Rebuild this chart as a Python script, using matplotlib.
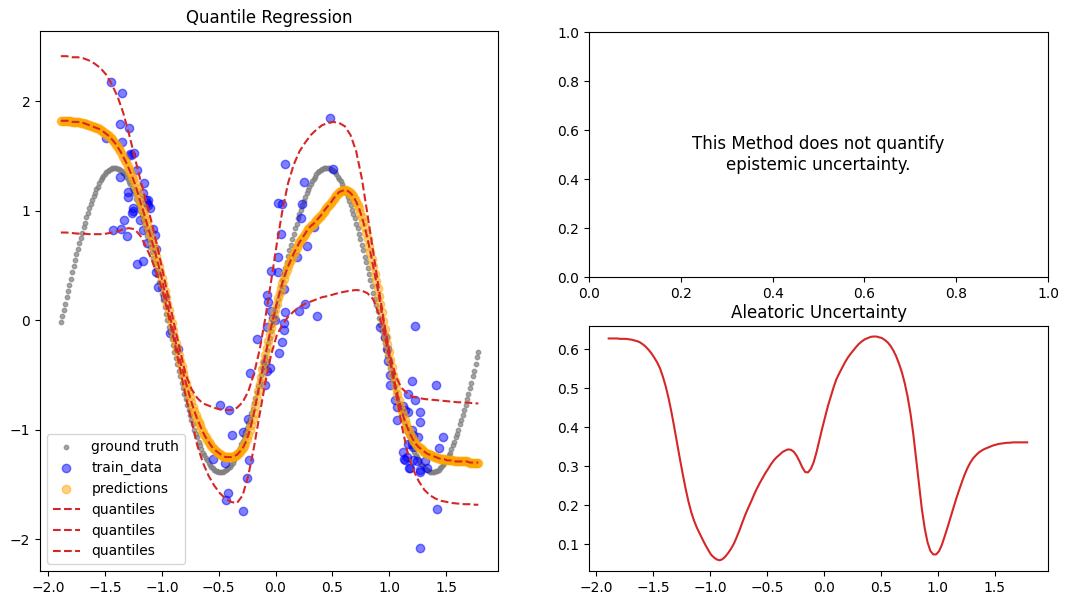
import numpy as np
import matplotlib.pyplot as plt

# test grid the model was evaluated on
x_fine = np.linspace(-1.89, 1.785, 295)
x_mid = x_fine[::2]
x_q = np.append(x_fine[::4], x_fine[-1])

ground_truth = [
    -0.02, 0.04, 0.09, 0.15, 0.21, 0.27, 0.32, 0.38, 0.44, 0.49,
    0.55, 0.60, 0.65, 0.70, 0.75, 0.80, 0.85, 0.89, 0.94, 0.98,
    1.02, 1.06, 1.10, 1.13, 1.16, 1.20, 1.22, 1.25, 1.28, 1.30,
    1.32, 1.33, 1.35, 1.36, 1.37, 1.38, 1.39, 1.39, 1.39, 1.39,
    1.38, 1.38, 1.37, 1.36, 1.34, 1.33, 1.31, 1.29, 1.26, 1.24,
    1.21, 1.18, 1.15, 1.11, 1.08, 1.04, 1.00, 0.96, 0.91, 0.87,
    0.82, 0.77, 0.73, 0.67, 0.62, 0.57, 0.52, 0.46, 0.41, 0.35,
    0.29, 0.24, 0.18, 0.12, 0.06, 0.00, -0.06, -0.11, -0.17, -0.23,
    -0.29, -0.35, -0.40, -0.46, -0.51, -0.57, -0.62, -0.67, -0.72, -0.77,
    -0.82, -0.87, -0.91, -0.95, -1.00, -1.04, -1.07, -1.11, -1.14, -1.18,
    -1.21, -1.23, -1.26, -1.28, -1.30, -1.32, -1.34, -1.35, -1.37, -1.38,
    -1.38, -1.39, -1.39, -1.39, -1.39, -1.38, -1.37, -1.36, -1.35, -1.34,
    -1.32, -1.30, -1.28, -1.25, -1.23, -1.20, -1.17, -1.13, -1.10, -1.06,
    -1.02, -0.98, -0.94, -0.90, -0.85, -0.81, -0.76, -0.71, -0.66, -0.60,
    -0.55, -0.50, -0.44, -0.39, -0.33, -0.27, -0.21, -0.16, -0.10, -0.04,
    0.02, 0.08, 0.14, 0.19, 0.25, 0.31, 0.37, 0.42, 0.48, 0.53,
    0.59, 0.64, 0.69, 0.74, 0.79, 0.84, 0.88, 0.93, 0.97, 1.01,
    1.05, 1.09, 1.12, 1.16, 1.19, 1.22, 1.24, 1.27, 1.29, 1.31,
    1.33, 1.35, 1.36, 1.37, 1.38, 1.39, 1.39, 1.39, 1.39, 1.39,
    1.38, 1.37, 1.36, 1.35, 1.33, 1.31, 1.29, 1.27, 1.24, 1.22,
    1.19, 1.16, 1.12, 1.09, 1.05, 1.01, 0.97, 0.93, 0.88, 0.84,
    0.79, 0.74, 0.69, 0.64, 0.58, 0.53, 0.48, 0.42, 0.37, 0.31,
    0.25, 0.19, 0.14, 0.08, 0.02, -0.04, -0.10, -0.16, -0.21, -0.27,
    -0.33, -0.39, -0.44, -0.50, -0.55, -0.60, -0.66, -0.71, -0.76, -0.81,
    -0.85, -0.90, -0.94, -0.98, -1.02, -1.06, -1.10, -1.13, -1.17, -1.20,
    -1.23, -1.25, -1.28, -1.30, -1.32, -1.34, -1.35, -1.36, -1.37, -1.38,
    -1.39, -1.39, -1.39, -1.39, -1.38, -1.38, -1.37, -1.35, -1.34, -1.32,
    -1.30, -1.28, -1.26, -1.23, -1.21, -1.18, -1.14, -1.11, -1.07, -1.04,
    -1.00, -0.95, -0.91, -0.87, -0.82, -0.77, -0.72, -0.67, -0.62, -0.57,
    -0.51, -0.46, -0.40, -0.34, -0.29,
]

# median quantile, also shown as the predictions
q_mid = [
    1.82, 1.82, 1.82, 1.82, 1.82, 1.82, 1.82, 1.815, 1.81, 1.81,
    1.81, 1.81, 1.81, 1.805, 1.80, 1.80, 1.80, 1.795, 1.79, 1.785,
    1.78, 1.775, 1.77, 1.765, 1.76, 1.755, 1.75, 1.745, 1.74, 1.73,
    1.72, 1.71, 1.70, 1.69, 1.68, 1.665, 1.65, 1.635, 1.62, 1.60,
    1.58, 1.56, 1.54, 1.515, 1.49, 1.465, 1.44, 1.41, 1.38, 1.35,
    1.32, 1.285, 1.25, 1.21, 1.17, 1.125, 1.08, 1.04, 1.00, 0.955,
    0.91, 0.865, 0.82, 0.775, 0.73, 0.685, 0.64, 0.59, 0.54, 0.49,
    0.44, 0.385, 0.33, 0.27, 0.21, 0.15, 0.09, 0.03, -0.03, -0.09,
    -0.15, -0.205, -0.26, -0.315, -0.37, -0.42, -0.47, -0.52, -0.57, -0.615,
    -0.66, -0.705, -0.75, -0.79, -0.83, -0.865, -0.90, -0.93, -0.96, -0.99,
    -1.02, -1.045, -1.07, -1.09, -1.11, -1.13, -1.15, -1.165, -1.18, -1.19,
    -1.20, -1.21, -1.22, -1.23, -1.24, -1.245, -1.25, -1.25, -1.25, -1.25,
    -1.25, -1.245, -1.24, -1.235, -1.23, -1.215, -1.20, -1.185, -1.17, -1.145,
    -1.12, -1.085, -1.05, -1.005, -0.96, -0.905, -0.85, -0.785, -0.72, -0.65,
    -0.58, -0.515, -0.45, -0.385, -0.32, -0.255, -0.19, -0.13, -0.07, -0.015,
    0.04, 0.095, 0.15, 0.20, 0.25, 0.295, 0.34, 0.38, 0.42, 0.455,
    0.49, 0.52, 0.55, 0.58, 0.61, 0.635, 0.66, 0.685, 0.71, 0.73,
    0.75, 0.77, 0.79, 0.81, 0.83, 0.845, 0.86, 0.87, 0.88, 0.895,
    0.91, 0.925, 0.94, 0.955, 0.97, 0.99, 1.01, 1.025, 1.04, 1.055,
    1.07, 1.09, 1.11, 1.125, 1.14, 1.155, 1.17, 1.175, 1.18, 1.185,
    1.19, 1.185, 1.18, 1.17, 1.16, 1.145, 1.13, 1.105, 1.08, 1.05,
    1.02, 0.98, 0.94, 0.895, 0.85, 0.795, 0.74, 0.68, 0.62, 0.555,
    0.49, 0.425, 0.36, 0.29, 0.22, 0.145, 0.07, -0.005, -0.08, -0.15,
    -0.22, -0.29, -0.36, -0.43, -0.50, -0.56, -0.62, -0.675, -0.73, -0.78,
    -0.83, -0.87, -0.91, -0.945, -0.98, -1.01, -1.04, -1.065, -1.09, -1.11,
    -1.13, -1.145, -1.16, -1.17, -1.18, -1.19, -1.20, -1.21, -1.22, -1.225,
    -1.23, -1.235, -1.24, -1.245, -1.25, -1.255, -1.26, -1.265, -1.27, -1.27,
    -1.27, -1.275, -1.28, -1.28, -1.28, -1.28, -1.28, -1.285, -1.29, -1.29,
    -1.29, -1.29, -1.29, -1.29, -1.29, -1.29, -1.29, -1.295, -1.30, -1.30,
    -1.30, -1.30, -1.30, -1.30, -1.30,
]

q_high = [
    2.41, 2.41, 2.40, 2.40, 2.39, 2.37, 2.34, 2.30, 2.24, 2.15,
    2.04, 1.89, 1.70, 1.49, 1.28, 1.09, 0.89, 0.67, 0.43, 0.19,
    -0.05, -0.28, -0.50, -0.63, -0.71, -0.76, -0.78, -0.80, -0.815, -0.82,
    -0.82, -0.80, -0.75, -0.65, -0.49, -0.27, 0.02, 0.35, 0.69, 1.00,
    1.25, 1.42, 1.54, 1.62, 1.69, 1.74, 1.78, 1.80, 1.81, 1.80,
    1.77, 1.69, 1.54, 1.29, 0.96, 0.62, 0.28, -0.05, -0.33, -0.52,
    -0.62, -0.67, -0.70, -0.71, -0.72, -0.725, -0.73, -0.735, -0.74, -0.745,
    -0.75, -0.75, -0.755, -0.76, -0.76,
]

q_low = [
    0.80, 0.80, 0.795, 0.79, 0.79, 0.785, 0.785, 0.785, 0.79, 0.80,
    0.81, 0.83, 0.84, 0.83, 0.77, 0.67, 0.55, 0.41, 0.25, 0.03,
    -0.20, -0.45, -0.70, -0.92, -1.14, -1.30, -1.42, -1.51, -1.58, -1.63,
    -1.66, -1.67, -1.60, -1.42, -1.16, -0.86, -0.57, -0.32, -0.14, -0.04,
    0.03, 0.08, 0.12, 0.15, 0.17, 0.19, 0.21, 0.22, 0.235, 0.25,
    0.26, 0.27, 0.275, 0.27, 0.245, 0.19, 0.05, -0.14, -0.38, -0.66,
    -0.96, -1.20, -1.36, -1.47, -1.55, -1.60, -1.63, -1.65, -1.66, -1.67,
    -1.675, -1.68, -1.68, -1.685, -1.685,
]

aleatoric = [
    0.627, 0.627, 0.627, 0.627, 0.626, 0.626, 0.626, 0.625, 0.624, 0.622,
    0.620, 0.617, 0.612, 0.606, 0.598, 0.589, 0.578, 0.566, 0.551, 0.530,
    0.505, 0.475, 0.440, 0.401, 0.360, 0.319, 0.280, 0.243, 0.210, 0.182,
    0.160, 0.142, 0.127, 0.112, 0.098, 0.085, 0.073, 0.066, 0.061, 0.059,
    0.062, 0.069, 0.078, 0.089, 0.102, 0.119, 0.137, 0.157, 0.176, 0.193,
    0.209, 0.226, 0.242, 0.256, 0.269, 0.282, 0.293, 0.305, 0.315, 0.323,
    0.329, 0.336, 0.340, 0.343, 0.342, 0.337, 0.327, 0.313, 0.297, 0.285,
    0.284, 0.293, 0.310, 0.336, 0.367, 0.397, 0.426, 0.454, 0.478, 0.502,
    0.523, 0.538, 0.552, 0.566, 0.578, 0.588, 0.597, 0.606, 0.614, 0.620,
    0.625, 0.628, 0.631, 0.632, 0.632, 0.630, 0.628, 0.623, 0.617, 0.608,
    0.596, 0.581, 0.562, 0.540, 0.512, 0.478, 0.435, 0.382, 0.318, 0.252,
    0.190, 0.141, 0.105, 0.083, 0.074, 0.074, 0.082, 0.098, 0.120, 0.143,
    0.167, 0.191, 0.215, 0.237, 0.258, 0.278, 0.295, 0.309, 0.320, 0.328,
    0.335, 0.340, 0.344, 0.347, 0.350, 0.353, 0.355, 0.357, 0.358, 0.359,
    0.360, 0.360, 0.361, 0.361, 0.361, 0.361, 0.361, 0.361,
]

train_x = [
    -1.448, -1.349, -1.369, -1.287, -1.495, -1.349, -1.281, -1.246, -1.222, -1.369,
    -1.155, -1.296, -1.301, -1.164, -1.120, -1.120, -1.252, -1.257, -1.266, -1.193,
    -1.331, -1.428, -1.363, -1.310, -1.164, -1.076, -1.061, -1.134, -1.052, -1.222,
    -1.164, -1.052, -1.032, -0.973, -1.272, -1.131, -1.105, -1.140,
    -0.929, -0.856, -0.489, -0.409, -0.380, -0.548, -0.445, -0.415, -0.436, -0.283,
    -0.248, -0.231, -0.283, -0.239, -0.224, -0.165, -0.092, -0.077, -0.048, -0.092,
    0.033, 0.055, 0.077, 0.077, 0.084, -0.004, -0.077, 0.210, 0.260, 0.363,
    -0.063, -0.040,
    0.480, 0.084, 0.509, 0.254, 0.019, 0.055, 0.231, 0.224, 0.342, 0.048,
    0.275, 0.187, 0.019, -0.040, 0.025, 0.077, -0.077, -0.019,
    1.227, 0.920, 0.964, 0.979, 0.993, 1.008, 1.008, 1.199, 1.413, 1.169,
    1.228, 1.052, 1.067, 1.125, 1.140, 1.272, 1.164, 1.272, 1.067, 1.199,
    1.257, 1.477, 1.439, 1.419, 1.272, 1.125, 1.155, 1.134, 1.175, 1.243,
    1.272, 1.331, 1.213, 1.169, 1.213, 1.199, 1.140, 1.184, 1.272, 1.316,
    1.213,
]
train_y = [
    2.17, 2.07, 1.79, 1.75, 1.66, 1.63, 1.52, 1.53, 1.37, 1.31,
    1.25, 1.17, 1.12, 1.16, 1.10, 1.05, 1.02, 1.00, 0.98, 0.91,
    0.91, 0.82, 0.83, 0.77, 0.82, 0.83, 0.78, 0.70, 0.65, 0.51,
    0.54, 0.44, 0.30, 0.21, 1.51, 1.07, 1.02, 1.10,
    -0.12, -0.26, -0.77, -0.82, -1.05, -1.27, -1.30, -1.58, -1.64, -1.74,
    -1.44, -1.28, -1.02, -0.90, -0.48, -0.17, -0.59, -0.46, -0.44, -0.38,
    -0.30, -0.20, -0.09, -0.03, 0.07, 0.00, -0.06, 0.085, 0.15, 0.04,
    0.17, 0.08,
    1.85, 1.43, 1.38, 1.26, 1.07, 1.06, 1.06, 0.93, 0.85, 0.79,
    0.68, 0.58, 0.58, 0.45, 0.44, 0.28, 0.23, 0.02,
    -0.05, -0.06, -0.15, -0.26, -0.37, -0.50, -0.59, -0.56, -0.59, -0.67,
    -0.73, -0.73, -0.79, -0.78, -0.82, -0.84, -0.84, -0.93, -0.91, -1.00,
    -1.07, -1.07, -1.17, -1.72, -2.08, -1.20, -1.25, -1.27, -1.35, -1.29,
    -1.37, -1.35, -1.16, -1.13, -1.05, -1.13, -1.28, -1.35, -1.39, -1.29,
    -1.28,
]

fontsize = 12

fig = plt.figure(figsize=(10.68, 6.05), dpi=100)
ax1 = fig.add_axes([0.0375, 0.0562, 0.4288, 0.8926])
ax2 = fig.add_axes([0.5515, 0.5421, 0.4298, 0.4050])
ax3 = fig.add_axes([0.5515, 0.0562, 0.4298, 0.4050])

ax1.scatter(x_fine, ground_truth, s=10, color='gray', alpha=0.7, label='ground truth')
ax1.scatter(train_x, train_y, color='blue', alpha=0.5, label='train_data')
ax1.scatter(x_fine, q_mid, color='orange', alpha=0.5, label='predictions')
ax1.plot(x_q, q_low, '--', color='tab:red', label='quantiles')
ax1.plot(x_fine, q_mid, '--', color='tab:red', label='quantiles')
ax1.plot(x_q, q_high, '--', color='tab:red', label='quantiles')
ax1.set_xlim(-2.073, 1.958)
ax1.set_ylim(-2.29, 2.64)
ax1.set_title('Quantile Regression', fontsize=fontsize)
ax1.legend(loc='lower left')

ax2.text(0.5, 0.5, 'This Method does not quantify\nepistemic uncertainty.',
         ha='center', va='center', fontsize=fontsize, transform=ax2.transAxes)

ax3.plot(x_mid, aleatoric, color='tab:red')
ax3.set_xlim(-2.063, 1.968)
ax3.set_ylim(0.0316, 0.659)
ax3.set_title('Aleatoric Uncertainty', fontsize=fontsize)

fig.savefig('out.png', dpi=100)
